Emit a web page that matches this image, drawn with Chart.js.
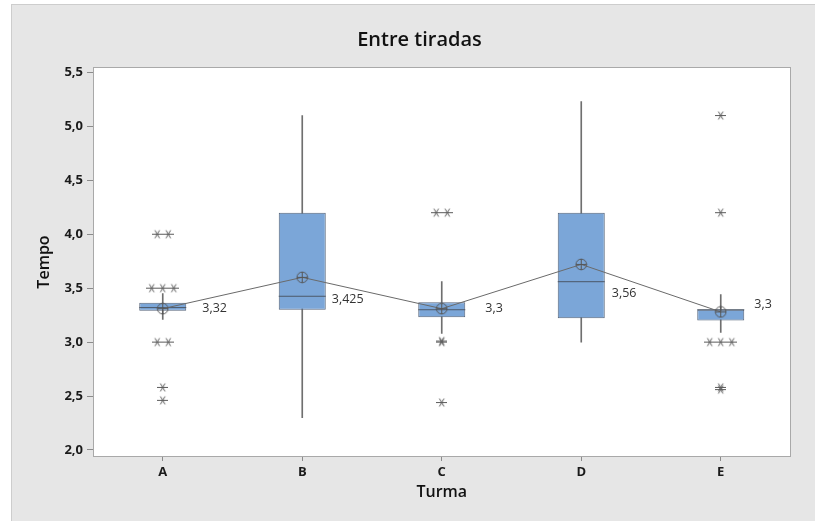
<!DOCTYPE html>
<html>
<head>
<meta charset="utf-8">
<script src="https://cdn.jsdelivr.net/npm/chart.js@4/dist/chart.umd.min.js"></script>
<style>
  html, body { margin: 0; padding: 0; background: #ffffff; width: 815px; height: 521px; overflow: hidden; }
  #frame { position: absolute; left: 11px; top: 4px; width: 804px; height: 517px; box-sizing: border-box;
           background: #e6e6e6; border-left: 1px solid #cdcdcd; border-top: 1px solid #cdcdcd; }
  #c { position: absolute; left: 12px; top: 5px; }
</style>
</head>
<body>
<div id="frame"></div>
<canvas id="c" width="803" height="516"></canvas>
<script>
// Tempo entre tiradas, por turma
const turmas      = ['A', 'B', 'C', 'D', 'E'];
const q1          = [3.29, 3.30, 3.23, 3.22, 3.20];
const q3          = [3.365, 4.20, 3.37, 4.20, 3.30];
const medians     = [3.32, 3.425, 3.3, 3.56, 3.3];
const whiskerLow  = [3.21, 2.30, 3.08, 3.00, 3.09];
const whiskerHigh = [3.45, 5.10, 3.56, 5.23, 3.44];
const means       = [3.31, 3.60, 3.31, 3.72, 3.28];
const outliersA   = [4.0, 4.0, 3.5, 3.5, 3.5, 3.0, 3.0, 2.58, 2.46];
const outliersB   = [];
const outliersC   = [4.2, 4.2, 3.0, 3.01, 2.44];
const outliersD   = [];
const outliersE   = [5.1, 4.2, 3.0, 3.0, 3.0, 2.58, 2.56];
const yTicks      = [2.0, 2.5, 3.0, 3.5, 4.0, 4.5, 5.0, 5.5];

const outliers = [outliersA, outliersB, outliersC, outliersD, outliersE];
const fmt = v => String(v).replace('.', ',');

// Repeated outlier values are spread side by side around the category centre
const SPREAD = 0.079;
const outlierPoints = [];
outliers.forEach((vals, i) => {
  const counts = {}, seen = {};
  vals.forEach(v => { counts[v] = (counts[v] || 0) + 1; });
  vals.forEach(v => {
    const k = seen[v] || 0;
    seen[v] = k + 1;
    outlierPoints.push({ x: i + (k - (counts[v] - 1) / 2) * SPREAD, y: v });
  });
});

// Point symbols: six-armed asterisk and circled plus
function asteriskSymbol() {
  const c = document.createElement('canvas');
  c.width = 11; c.height = 11;
  const g = c.getContext('2d');
  g.strokeStyle = '#5a5a5a'; g.lineWidth = 1;
  g.beginPath();
  g.moveTo(0, 5.5); g.lineTo(11, 5.5);
  for (const a of [60, 120]) {
    const r = a * Math.PI / 180;
    g.moveTo(5.5 + Math.cos(r) * 4.6, 5.5 - Math.sin(r) * 4.6);
    g.lineTo(5.5 - Math.cos(r) * 4.6, 5.5 + Math.sin(r) * 4.6);
  }
  g.stroke();
  return c;
}
function meanSymbol() {
  const c = document.createElement('canvas');
  c.width = 13; c.height = 13;
  const g = c.getContext('2d');
  g.strokeStyle = '#555555'; g.lineWidth = 1;
  g.beginPath(); g.arc(6.5, 6.5, 5.3, 0, Math.PI * 2); g.stroke();
  g.beginPath(); g.moveTo(1.2, 6.5); g.lineTo(11.8, 6.5); g.moveTo(6.5, 1.2); g.lineTo(6.5, 11.8); g.stroke();
  return c;
}

const medianLabelNudge = [[16, 1], [6, 3], [20, -1], [7, 12], [10, -5]];

const plotFrame = {
  id: 'plotFrame',
  beforeDraw(chart) {
    const { ctx, chartArea: a } = chart;
    ctx.save();
    ctx.fillStyle = '#ffffff';
    ctx.fillRect(a.left, a.top, a.right - a.left, a.bottom - a.top);
    ctx.strokeStyle = '#a9a9a9';
    ctx.lineWidth = 1;
    ctx.strokeRect(Math.round(a.left) + 0.5, Math.round(a.top) + 0.5,
                   Math.round(a.right - a.left) - 1, Math.round(a.bottom - a.top) - 1);
    ctx.restore();
  }
};

const medianLabels = {
  id: 'medianLabels',
  afterDatasetsDraw(chart) {
    const { ctx } = chart;
    const xs = chart.scales.x, ys = chart.scales.y;
    const boxes = chart.getDatasetMeta(1).data;
    ctx.save();
    ctx.font = '12.5px "Open Sans"';
    ctx.fillStyle = '#333333';
    ctx.textAlign = 'left';
    ctx.textBaseline = 'middle';
    medians.forEach((m, i) => {
      const half = boxes[i] ? boxes[i].width / 2 : 0;
      const [dx, dy] = medianLabelNudge[i];
      ctx.fillText(fmt(m), xs.getPixelForValue(i) + half + dx, ys.getPixelForValue(m) + dy);
    });
    ctx.restore();
  }
};

new Chart(document.getElementById('c'), {
  data: {
    datasets: [
      {
        type: 'bar', label: 'whiskers', order: 6, grouped: false,
        data: turmas.map((_, i) => ({ x: i, y: [whiskerLow[i], whiskerHigh[i]] })),
        backgroundColor: '#6f6f6f', barThickness: 1, borderWidth: 0
      },
      {
        type: 'bar', label: 'box', order: 5, grouped: false,
        data: turmas.map((_, i) => ({ x: i, y: [q1[i], q3[i]] })),
        backgroundColor: '#7ba6d8', borderColor: '#55647a', borderWidth: 1, borderSkipped: false,
        barPercentage: 0.337, categoryPercentage: 1
      },
      {
        type: 'scatter', label: 'median', order: 4,
        data: turmas.map((_, i) => ({ x: i, y: medians[i] })),
        pointStyle: 'line', pointRadius: 23.5, borderColor: '#4c5868', pointBorderWidth: 1
      },
      {
        type: 'line', label: 'mean', order: 3,
        data: turmas.map((_, i) => ({ x: i, y: means[i] })),
        borderColor: '#6a6a6a', borderWidth: 1, tension: 0, fill: false,
        pointStyle: meanSymbol(), pointRadius: 6
      },
      {
        type: 'scatter', label: 'outliers', order: 2,
        data: outlierPoints,
        pointStyle: asteriskSymbol(), pointRadius: 5
      }
    ]
  },
  options: {
    responsive: false,
    animation: false,
    events: [],
    layout: { padding: { left: 12, right: 0, top: 0, bottom: 0 } },
    plugins: {
      legend: { display: false },
      tooltip: { enabled: false },
      title: {
        display: true, text: 'Entre tiradas', color: '#111111',
        font: { family: '"Open Sans"', size: 20, weight: '600' },
        padding: { top: 23.5, bottom: 14.5 }
      }
    },
    scales: {
      x: {
        type: 'linear', position: 'bottom', min: -0.5, max: 4.5, offset: false,
        afterBuildTicks: s => { s.ticks = turmas.map((_, i) => ({ value: i })); },
        afterFit: s => { s.height = 64; },
        ticks: {
          callback: v => turmas[v], color: '#1a1a1a', padding: 3,
          font: { family: '"Open Sans"', size: 13, weight: 'bold' }
        },
        grid: { offset: false, drawOnChartArea: false, drawTicks: true, tickLength: 4, color: '#8c8c8c' },
        border: { display: false },
        title: {
          display: true, text: 'Turma', color: '#111111',
          font: { family: '"Open Sans"', size: 16, weight: '600' },
          padding: { top: 0, bottom: 19 }
        }
      },
      y: {
        type: 'linear', position: 'left', min: 1.935, max: 5.55,
        afterBuildTicks: s => { s.ticks = yTicks.map(v => ({ value: v })); },
        afterFit: s => { s.width = 69; },
        ticks: {
          callback: v => v.toFixed(1).replace('.', ','), color: '#1a1a1a', padding: 4,
          font: { family: '"Open Sans"', size: 13, weight: 'bold' }
        },
        grid: { drawOnChartArea: false, drawTicks: true, tickLength: 6, color: '#8c8c8c' },
        border: { display: false },
        title: {
          display: true, text: 'Tempo', color: '#111111',
          font: { family: '"Open Sans"', size: 16, weight: '600' },
          padding: { top: 10.7, bottom: 0 }
        }
      },
      yR: {
        type: 'linear', position: 'right', display: true,
        afterFit: s => { s.width = 24; },
        ticks: { display: false },
        grid: { display: false },
        border: { display: false }
      }
    }
  },
  plugins: [plotFrame, medianLabels]
});
</script>
</body>
</html>
